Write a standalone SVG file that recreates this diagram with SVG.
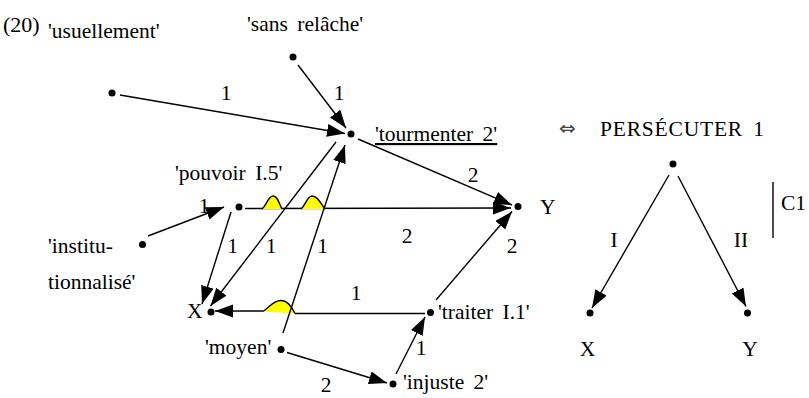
<svg xmlns="http://www.w3.org/2000/svg" width="809" height="398" viewBox="0 0 809 398">
<style>
text{font-family:"Liberation Serif","Times New Roman",serif;font-size:21.5px;fill:#000}
.ws{word-spacing:4px}
.c{text-anchor:middle}
.e{fill:none;stroke:#000;stroke-width:1.4}
.a{marker-end:url(#ah)}
.h{fill:#ffff00;stroke:#000;stroke-width:1.4}
circle{fill:#000}
</style>
<defs>
<marker id="ah" markerUnits="userSpaceOnUse" markerWidth="19" markerHeight="14" refX="18" refY="6.5" orient="auto">
<path d="M0,0 L18,6.5 L0,13 z" fill="#000"/>
</marker>
</defs>
<rect width="809" height="398" fill="#fff"/>
<text x="3" y="32" style="font-size:22px">(20)</text>

<g id="connectors">
<line class="e a" x1="120" y1="95" x2="345" y2="133.5"/>
<line class="e a" x1="298" y1="65" x2="346" y2="128"/>
<line class="e a" x1="358" y1="139" x2="512" y2="205"/>
<line class="e a" x1="245" y1="208.5" x2="511" y2="208"/>
<line class="e a" x1="148" y1="236" x2="224" y2="207"/>
<line class="e" x1="425" y1="313.5" x2="295" y2="313.5"/>
<line class="e a" x1="263" y1="311" x2="215" y2="311"/>
<path class="h" d="M262,209 C267,205 268,196 273,196 C278,196 279,204 282,209"/>
<path class="h" d="M301,209 C306,205 307,196 312,196 C318,196 321,204 325,209"/>
<path class="h" d="M263,311.5 C270,307 273,300.5 281,300.5 C288,300.5 292,307 295,313.5"/>
<line class="e a" x1="231" y1="212" x2="202" y2="304"/>
<line class="e a" x1="336" y1="142" x2="210.5" y2="306"/>
<line class="e a" x1="283" y1="333" x2="345" y2="145"/>
<line class="e a" x1="436" y1="300" x2="512" y2="211.5"/>
<line class="e a" x1="396" y1="374" x2="425" y2="317"/>
<line class="e a" x1="287" y1="352.5" x2="387" y2="383"/>
<line class="e a" x1="669" y1="175" x2="592" y2="308"/>
<line class="e a" x1="678" y1="176" x2="746" y2="306.5"/>
<text class="c" x="226" y="100">1</text>
<text class="c" x="339" y="100">1</text>
<text class="c" x="473" y="181.5">2</text>
<text class="c" x="204" y="213">1</text>
<text class="c" x="232.5" y="253">1</text>
<text class="c" x="271" y="253">1</text>
<text class="c" x="322.5" y="253">1</text>
<text class="c" x="407" y="243">2</text>
<text class="c" x="512" y="253">2</text>
<text class="c" x="356" y="300">1</text>
<text class="c" x="421" y="355">1</text>
<text class="c" x="326" y="392">2</text>
<text class="c" x="614" y="246.5">I</text>
<text class="c" x="741" y="246.5">II</text>
</g>

<g id="usuellement"><circle cx="112" cy="93" r="3.5"/><text x="48" y="37.5">'usuellement'</text></g>
<g id="sans-relache"><circle cx="293" cy="57" r="3.5"/><text class="ws" x="247" y="31">'sans relâche'</text></g>
<g id="tourmenter"><circle cx="351" cy="134" r="3.5"/><text class="ws" x="375" y="141" text-decoration="underline">'tourmenter 2'</text></g>
<g id="Y"><circle cx="518" cy="206.5" r="3.5"/><text x="540" y="213.5">Y</text></g>
<g id="pouvoir"><circle cx="239" cy="207" r="3.5"/><text class="ws" x="175" y="180">'pouvoir I.5'</text></g>
<g id="institutionnalise"><circle cx="142.5" cy="244.5" r="3.5"/><text x="48" y="252.5">'institu-</text><text x="48" y="289">tionnalisé'</text></g>
<g id="X"><circle cx="211" cy="312" r="3.5"/><text x="187" y="318">X</text></g>
<g id="traiter"><circle cx="430.5" cy="312.5" r="3.5"/><text class="ws" x="438" y="319">'traiter I.1'</text></g>
<g id="moyen"><circle cx="281" cy="349.5" r="3.5"/><text x="205" y="354">'moyen'</text></g>
<g id="injuste"><circle cx="393" cy="384" r="3.5"/><text class="ws" x="403" y="389">'injuste 2'</text></g>

<g id="persecuter">
<text x="559" y="135" style="font-family:'DejaVu Sans',sans-serif;font-size:20px;fill:#444">⇔</text>
<text class="ws" x="600" y="136" style="letter-spacing:0.8px">PERSÉCUTER 1</text>
<circle cx="673" cy="164" r="3.5"/>
<line x1="773" y1="182" x2="773" y2="238" stroke="#000" stroke-width="1.4"/>
<text x="781" y="210">C1</text>
</g>
<g id="rX"><circle cx="590" cy="313" r="3.5"/><text class="c" x="587.5" y="356">X</text></g>
<g id="rY"><circle cx="747.5" cy="313" r="3.5"/><text class="c" x="750" y="356">Y</text></g>
</svg>
